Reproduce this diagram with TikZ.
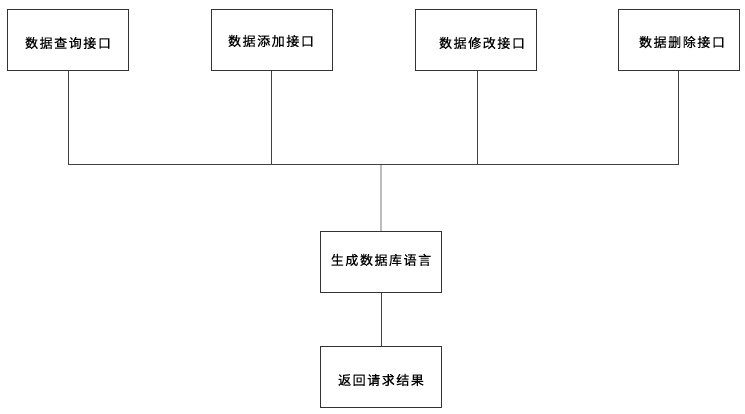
\documentclass[tikz,border=0pt]{standalone}
\usepackage{fontspec}
\newfontfamily\cjk[LetterSpace=12,FakeBold=0.4]{Noto Sans CJK SC}
\begin{document}
\begin{tikzpicture}[x=1pt,y=-1pt,
  box/.style={draw=black!80,line width=0.9pt,minimum width=121pt,minimum height=61pt,inner sep=0pt,anchor=north west},
  lbl/.style={font=\cjk\fontsize{13}{15}\selectfont,inner sep=0pt},
  conn/.style={draw=black!75,line width=0.9pt}]
\useasboundingbox (0,0) rectangle (745,414);
\node[box] (b1) at (7,9) {};
\node[box] (b2) at (211,9) {};
\node[box] (b3) at (415,9) {};
\node[box] (b4) at (618,9) {};
\node[box] (b5) at (320,231) {};
\node[box] (b6) at (320,346) {};
\node[lbl] (t1) at (68,43) {数据查询接口};
\node[lbl] (t2) at (271,41) {数据添加接口};
\node[lbl] (t3) at (482,43) {数据修改接口};
\node[lbl] (t4) at (682,42) {数据删除接口};
\node[lbl] (t5) at (381,260) {生成数据库语言};
\node[lbl] (t6) at (381,380) {返回请求结果};
\coordinate (h1) at (68,164);
\coordinate (h2) at (271,164);
\coordinate (h3) at (477,164);
\coordinate (h4) at (678,164);
\coordinate (hc) at (381,164);
\draw[conn] (b1.south -| h1) -- (h1) -- (h4) -- (b4.south -| h4);
\draw[conn] (b2.south -| h2) -- (h2);
\draw[conn] (b3.south -| h3) -- (h3);
\draw[conn] (hc) -- (b5.north);
\draw[conn] (b5.south) -- (b6.north);
\end{tikzpicture}
\end{document}
